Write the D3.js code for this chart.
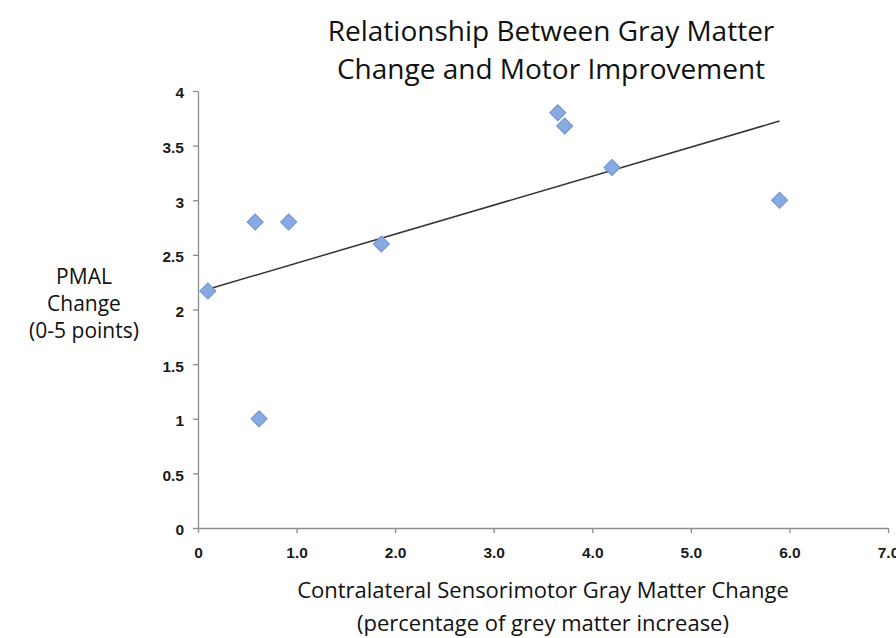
<!DOCTYPE html>
<html>
<head>
<meta charset="utf-8">
<script src="https://cdn.jsdelivr.net/npm/d3@7"></script>
<style>
  body { margin: 0; background: #fff; }
  svg { display: block; font-family: 'Open Sans', sans-serif; }
  .axis path, .axis line { stroke: #8c8c8c; stroke-width: 1.3; }
  .axis text { fill: #1a1a1a; font-size: 15.5px; font-weight: 600; }
</style>
</head>
<body>
<svg id="chart" width="896" height="638"></svg>
<script>
// Values
var grayMatterChange = [0.1, 0.58, 0.92, 1.86, 0.62, 3.65, 3.72, 4.2, 5.9];
var pmalChange       = [2.17, 2.8, 2.8, 2.6, 1.0, 3.8, 3.68, 3.3, 3.0];
var xTicks = [0, 1, 2, 3, 4, 5, 6, 7];
var yTicks = [0, 0.5, 1, 1.5, 2, 2.5, 3, 3.5, 4];
var titleLines = ['Relationship Between Gray Matter', 'Change and Motor Improvement'];
var yLabelLines = ['PMAL', 'Change', '(0-5 points)'];
var xLabelLines = ['Contralateral Sensorimotor Gray Matter Change', '(percentage of grey matter increase)'];

var svg = d3.select('#chart');

var points = grayMatterChange.map(function(d, i) { return { x: d, y: pmalChange[i] }; });

// Scales
var x = d3.scaleLinear().domain([0, 7]).range([198, 888]);
var y = d3.scaleLinear().domain([0, 4]).range([528, 91]);

// Axes
var xAxis = d3.axisBottom(x)
    .tickValues(xTicks)
    .tickSize(5)
    .tickSizeOuter(0)
    .tickFormat(function(d) { return d === 0 ? '0' : d3.format('.1f')(d); });
svg.append('g')
    .attr('class', 'x axis')
    .attr('transform', 'translate(0,' + y(0) + ')')
    .call(xAxis)
    .selectAll('text')
    .attr('dy', '1.4em');

var yAxis = d3.axisLeft(y)
    .tickValues(yTicks)
    .tickSize(5)
    .tickSizeOuter(0)
    .tickFormat(d3.format('~g'));
svg.append('g')
    .attr('class', 'y axis')
    .attr('transform', 'translate(' + x(0) + ',0)')
    .call(yAxis)
    .selectAll('text')
    .attr('x', -14)
    .attr('dy', '0.45em');

// Linear trend line (least squares over the points)
var mx = d3.mean(points, function(d) { return d.x; }),
    my = d3.mean(points, function(d) { return d.y; });
var slope = d3.sum(points, function(d) { return (d.x - mx) * (d.y - my); }) /
            d3.sum(points, function(d) { return (d.x - mx) * (d.x - mx); });
var intercept = my - slope * mx;
var xExt = d3.extent(points, function(d) { return d.x; });
var trend = xExt.map(function(v) { return { x: v, y: intercept + slope * v }; });

svg.append('path')
    .datum(trend)
    .attr('fill', 'none')
    .attr('stroke', '#333')
    .attr('stroke-width', 1.5)
    .attr('d', d3.line()
        .x(function(d) { return x(d.x); })
        .y(function(d) { return y(d.y); }));

// Diamond markers
var diamond = d3.symbol().type(d3.symbolSquare).size(130);
svg.append('g')
    .selectAll('path')
    .data(points)
    .enter().append('path')
    .attr('d', diamond)
    .attr('transform', function(d) {
        return 'translate(' + x(d.x) + ',' + y(d.y) + ') rotate(45)';
    })
    .attr('fill', '#88a9e2')
    .attr('stroke', '#6f93d2')
    .attr('stroke-width', 1);

// Title
svg.append('text')
    .attr('text-anchor', 'middle')
    .attr('font-size', 28)
    .attr('fill', '#111')
    .selectAll('tspan')
    .data(titleLines)
    .enter().append('tspan')
    .attr('x', 551)
    .attr('y', function(d, i) { return 41 + i * 38; })
    .text(function(d) { return d; });

// Y label
svg.append('text')
    .attr('text-anchor', 'middle')
    .attr('font-size', 21)
    .attr('fill', '#111')
    .selectAll('tspan')
    .data(yLabelLines)
    .enter().append('tspan')
    .attr('x', 84)
    .attr('y', function(d, i) { return 284 + i * 27; })
    .text(function(d) { return d; });

// X label
svg.append('text')
    .attr('text-anchor', 'middle')
    .attr('font-size', 22)
    .attr('fill', '#111')
    .selectAll('tspan')
    .data(xLabelLines)
    .enter().append('tspan')
    .attr('x', 543)
    .attr('y', function(d, i) { return 598 + i * 33; })
    .text(function(d) { return d; });
</script>
</body>
</html>
